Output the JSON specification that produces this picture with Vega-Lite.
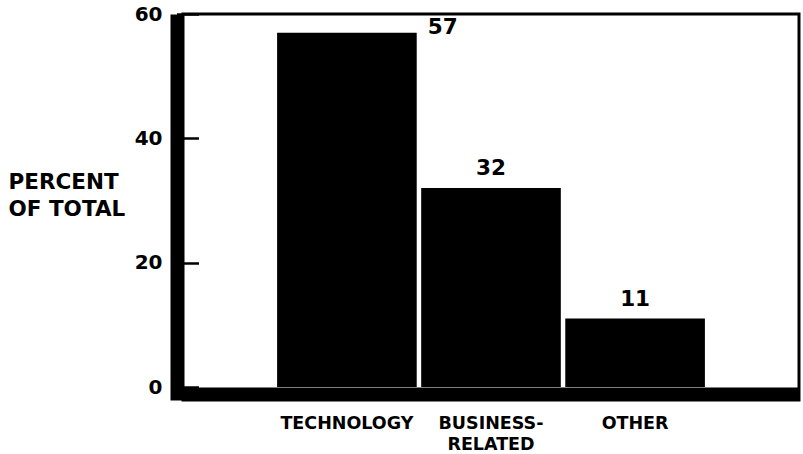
{
  "$schema": "https://vega.github.io/schema/vega-lite/v6.json",
  "autosize": "none",
  "width": 616,
  "height": 386,
  "padding": {"top": 14, "left": 183, "right": 4, "bottom": 54},
  "background": "white",
  "data": {
    "values": [
      {"category": "TECHNOLOGY", "pct": 57},
      {"category": "BUSINESS-RELATED", "pct": 32},
      {"category": "OTHER", "pct": 11}
    ]
  },
  "encoding": {
    "x": {
      "field": "category",
      "type": "nominal",
      "sort": null,
      "scale": {"paddingInner": 0.031, "paddingOuter": 0.653},
      "axis": {
        "title": null,
        "orient": "bottom",
        "offset": -6.5,
        "domainColor": "black",
        "domainWidth": 13,
        "domainCap": "butt",
        "ticks": false,
        "labelAngle": 0,
        "labelFont": "DejaVu Sans",
        "labelFontWeight": "bold",
        "labelFontSize": 17.5,
        "labelColor": "black",
        "labelPadding": 21,
        "labelLineHeight": 21,
        "labelBaseline": "top",
        "labelExpr": "datum.value === 'BUSINESS-RELATED' ? ['BUSINESS-', 'RELATED'] : datum.label"
      }
    }
  },
  "layer": [
    {
      "mark": {"type": "bar", "color": "black"},
      "encoding": {
        "y": {
          "field": "pct",
          "type": "quantitative",
          "scale": {"domain": [-2.09, 60], "nice": false, "zero": false},
          "axis": {
            "title": ["PERCENT", "OF TOTAL"],
            "titleAngle": 0,
            "titleAlign": "left",
            "titleBaseline": "alphabetic",
            "titleX": -168.5,
            "titleY": 174,
            "titleFont": "DejaVu Sans",
            "titleFontWeight": "bold",
            "titleFontSize": 21.5,
            "titleLineHeight": 27,
            "titleColor": "black",
            "values": [0, 20, 40, 60],
            "offset": 6.5,
            "domainColor": "black",
            "domainWidth": 13,
            "domainCap": "butt",
            "grid": false,
            "tickColor": "black",
            "tickSize": -22,
            "tickWidth": 2.5,
            "labelFont": "DejaVu Sans",
            "labelFontWeight": "bold",
            "labelFontSize": 20,
            "labelColor": "black",
            "labelPadding": 36.5
          }
        }
      }
    },
    {
      "transform": [{"filter": "datum.pct < 50"}],
      "mark": {
        "type": "text",
        "font": "DejaVu Sans",
        "fontWeight": "bold",
        "fontSize": 21.5,
        "color": "black",
        "baseline": "alphabetic",
        "dy": -13
      },
      "encoding": {
        "y": {"field": "pct", "type": "quantitative"},
        "text": {"field": "pct", "type": "quantitative"}
      }
    },
    {
      "transform": [{"filter": "datum.pct >= 50"}],
      "mark": {
        "type": "text",
        "font": "DejaVu Sans",
        "fontWeight": "bold",
        "fontSize": 21.5,
        "color": "black",
        "align": "left",
        "baseline": "middle",
        "dx": 11,
        "dy": -5
      },
      "encoding": {
        "x": {"field": "category", "type": "nominal", "sort": null, "bandPosition": 1},
        "y": {"field": "pct", "type": "quantitative"},
        "text": {"field": "pct", "type": "quantitative"}
      }
    }
  ],
  "config": {
    "view": {"stroke": "black", "strokeWidth": 3}
  }
}
